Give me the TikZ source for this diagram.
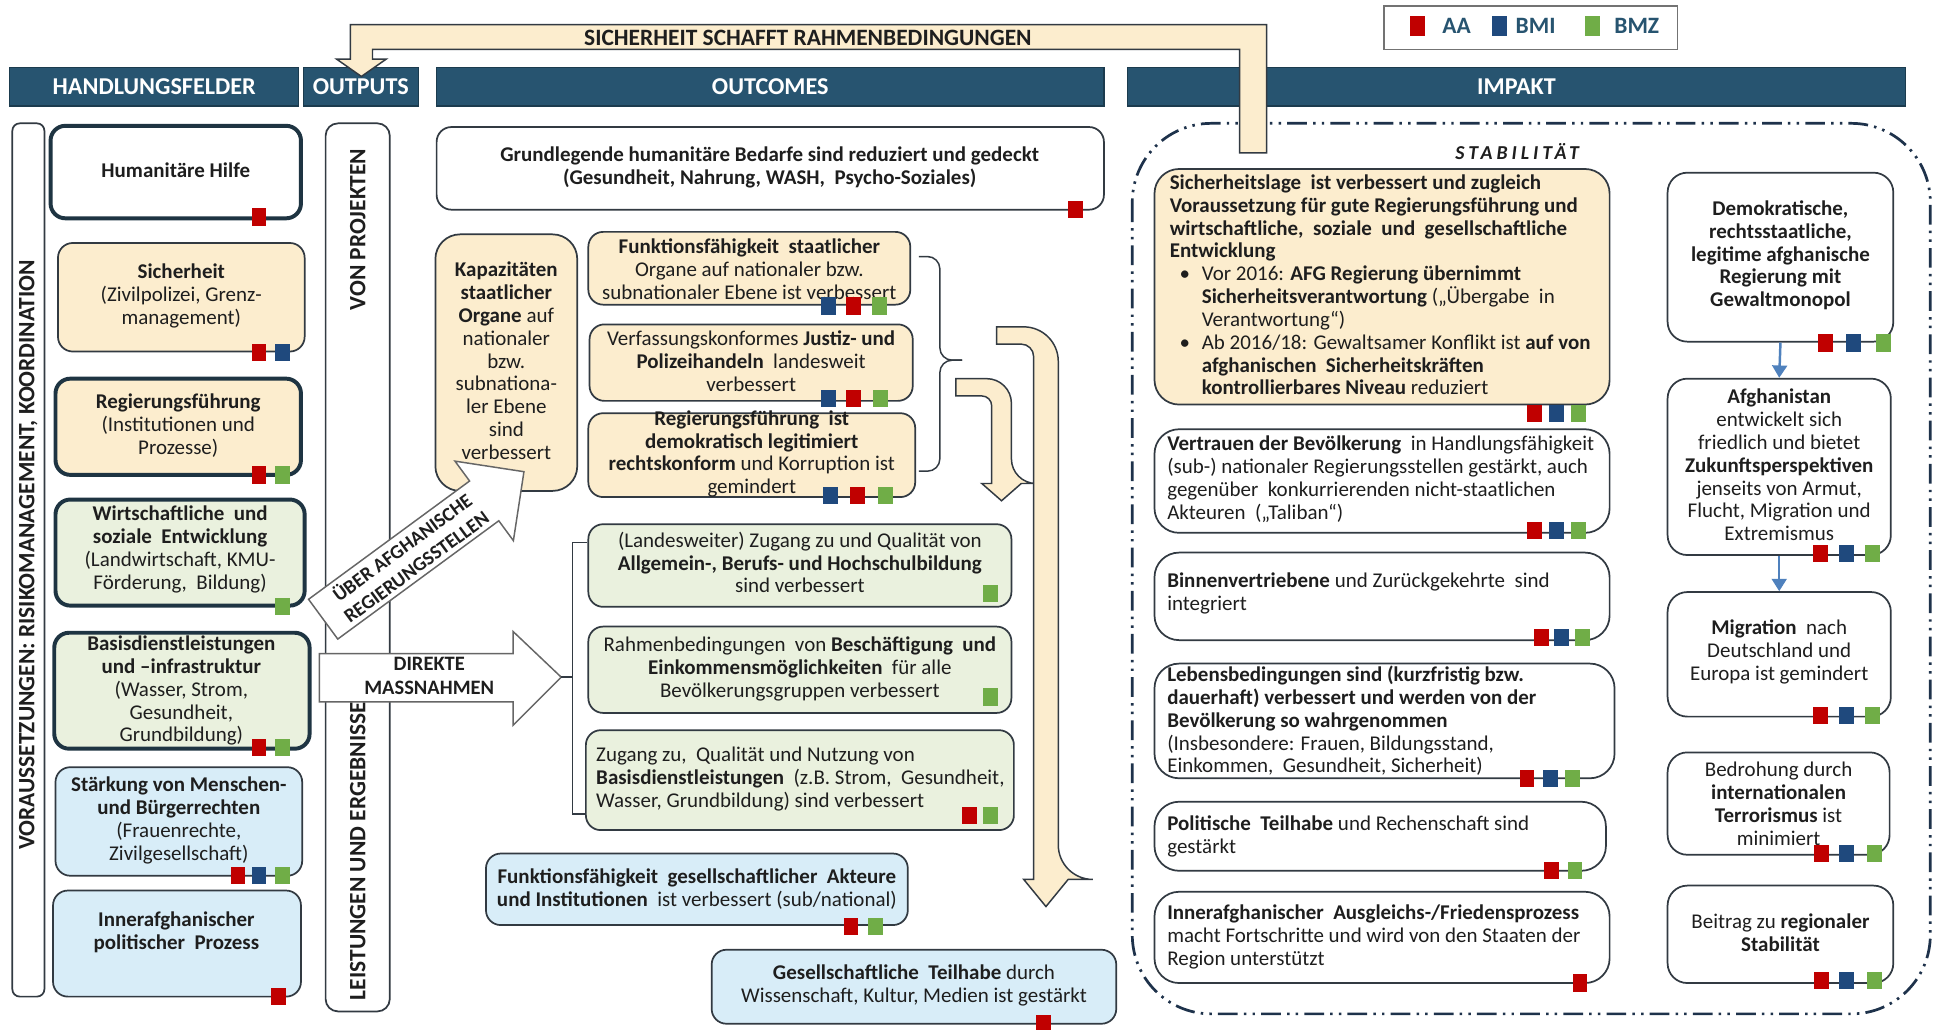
\documentclass[tikz,border=0pt]{standalone}
\usepackage{fontspec}
\setmainfont{Carlito}
\usetikzlibrary{fit,arrows.meta}
\definecolor{hdrC}{RGB}{39,84,112}
\definecolor{creamC}{RGB}{252,237,206}
\definecolor{greenC}{RGB}{234,241,222}
\definecolor{blueC}{RGB}{216,237,248}
\definecolor{edgeC}{RGB}{50,58,66}
\definecolor{thickC}{RGB}{30,52,66}
\definecolor{redSq}{RGB}{192,0,0}
\definecolor{blueSq}{RGB}{31,73,125}
\definecolor{greenSq}{RGB}{112,173,71}
\definecolor{arrC}{RGB}{79,129,189}
\definecolor{dashC}{RGB}{30,50,75}
\definecolor{txtC}{RGB}{30,30,30}
\newcommand\BFont{\fontsize{8.5}{9.25}\selectfont}
\newcommand\sq[3]{\fill[#1] ({#2-6},{#3-7}) rectangle ({#2+6},{#3+7});}
\tikzset{
  bx/.style={draw=edgeC, line width=0.7pt, rounded corners=6pt, inner sep=0pt},
  bxk/.style={draw=thickC, line width=1.6pt, rounded corners=6pt, inner sep=0pt},
  bxr/.style={draw=edgeC, line width=0.7pt, rounded corners=8pt, inner sep=0pt, fill=white},
  txt/.style={inner sep=0pt, align=center, font=\BFont, text=txtC},
  txl/.style={inner sep=0pt, align=left, font=\BFont, text=txtC, anchor=west},
  hdrbar/.style={fill=hdrC, draw=hdrC!70!black, line width=0.5pt, inner sep=0pt},
  hdrtxt/.style={inner sep=0pt, text=white, font=\bfseries\fontsize{9.8}{11}\selectfont},
  vtxt/.style={rotate=90, inner sep=0pt, text=txtC, font=\bfseries\fontsize{9.5}{11}\selectfont},
  blockarrow/.style={draw=black!60, line width=0.6pt, fill=white},
  bendarrow/.style={draw=edgeC, line width=0.6pt, fill=creamC},
  flow/.style={arrC, line width=1pt, -{Triangle[width=6pt,length=5pt]}},
  legtxt/.style={inner sep=0pt, text=hdrC, font=\bfseries\fontsize{9.5}{11}\selectfont}
}
\begin{document}
\begin{tikzpicture}[x=0.5pt,y=-0.5pt]
\useasboundingbox (0,0) rectangle (1568,835);
\fill[white] (0,0) rectangle (1568,835);

% ---------- impakt dashed frame
\draw[dashC, line width=1.1pt, dash pattern=on 8pt off 2.5pt on 1pt off 2.5pt on 1pt off 2.5pt, rounded corners=32pt] (918,100) rectangle (1565,822);

% ---------- header bars
\node[hdrbar, fit={(8,55)(242,86)}] (hHF) {};
\node[hdrtxt] (hHFt) at (hHF.center) {HANDLUNGSFELDER};
\node[hdrbar, fit={(246,55)(339,86)}] (hOUT) {};
\node[hdrtxt] (hOUTt) at (hOUT.center) {OUTPUTS};
\node[hdrbar, fit={(354,55)(895,86)}] (hOC) {};
\node[hdrtxt] (hOCt) at (hOC.center) {OUTCOMES};
\node[hdrbar, fit={(914,55)(1545,86)}] (hIMP) {};
\node[hdrtxt] (hIMPt) at (hIMP.center) {IMPAKT};

% ---------- Sicherheit band
\draw[bendarrow] (1005,124) -- (1005,40) -- (302,40) -- (302,48) -- (313,48) -- (293,62) -- (273,48) -- (284,48) -- (284,20) -- (1027,20) -- (1027,124) -- cycle;
\node[inner sep=0pt, text=txtC, font=\bfseries\fontsize{9.5}{11}\selectfont] (sichband) at (655,31) {SICHERHEIT SCHAFFT RAHMENBEDINGUNGEN};

% ---------- legend
\node[draw=black!55, line width=0.6pt, inner sep=0pt, fit={(1122,5)(1360,40)}] (legend) {};
\fill[redSq] (1143,13) rectangle (1155,29);
\fill[blueSq] (1210,13) rectangle (1222,29);
\fill[greenSq] (1285,13) rectangle (1297,29);
\node[legtxt] (legAA) at (1181,21) {AA};
\node[legtxt] (legBMI) at (1245,21) {BMI};
\node[legtxt] (legBMZ) at (1327,21) {BMZ};

% ---------- vertical frames
\node[draw=edgeC, line width=0.7pt, rounded corners=3pt, inner sep=0pt, fit={(10,100)(36,808)}] (vor) {};
\node[vtxt] (vortxt) at (23,450) {VORAUSSETZUNGEN: RISIKOMANAGEMENT, KOORDINATION};
\node[draw=edgeC, line width=0.7pt, rounded corners=5pt, inner sep=0pt, fit={(264,100)(316,820)}] (outcol) {};
\node[vtxt] (vonproj) at (290,186) {VON PROJEKTEN};
\node[vtxt] (leist) at (290,690) {LEISTUNGEN UND ERGEBNISSE};

% ---------- Handlungsfelder
\node[bxk, fill=white, fit={(41,102)(244,177)}] (L1) {};
\node[txt] (L1t) at (142.5,138) {\textbf{Humanitäre Hilfe}};
\node[bx, fill=creamC, fit={(47,197)(247,285)}] (L2) {};
\node[txt] (L2t) at (147,240) {\textbf{Sicherheit}\\(Zivilpolizei, Grenz-\\management)};
\node[bxk, fill=creamC, fit={(45,307)(244,385)}] (L3) {};
\node[txt] (L3t) at (144.5,345) {\textbf{Regierungsführung}\\(Institutionen und\\Prozesse)};
\node[bxk, fill=greenC, fit={(45,405)(247,491)}] (L4) {};
\node[txt] (L4t) at (146,445.5) {\textbf{Wirtschaftliche\ \ und}\\\textbf{soziale\ \ Entwicklung}\\(Landwirtschaft, KMU-\\Förderung,\ \ Bildung)};
\node[bxk, fill=greenC, fit={(44,513)(251,607)}] (L5) {};
\node[txt] (L5t) at (147,560) {\textbf{Basisdienstleistungen}\\\textbf{und –infrastruktur}\\(Wasser, Strom,\\Gesundheit,\\Grundbildung)};
\node[bx, fill=blueC, fit={(45,622)(245,710)}] (L6) {};
\node[txt] (L6t) at (145,665) {\textbf{Stärkung von Menschen-}\\\textbf{und Bürgerrechten}\\(Frauenrechte,\\Zivilgesellschaft)};
\node[bx, fill=blueC, fit={(43,722)(244,808)}] (L7) {};
\node[txt] (L7t) at (143,756) {\textbf{Innerafghanischer}\\\textbf{politischer\ \ Prozess}};

\sq{redSq}{210}{176}
\sq{redSq}{210}{286}\sq{blueSq}{229}{286}
\sq{redSq}{210}{385}\sq{greenSq}{229}{385}
\sq{greenSq}{229}{492}
\sq{redSq}{210}{606}\sq{greenSq}{229}{606}
\sq{redSq}{193}{710}\sq{blueSq}{210}{710}\sq{greenSq}{229}{710}
\sq{redSq}{226}{808}

% ---------- Outcomes
\node[bx, fill=white, fit={(354,103)(895,170)}] (O1) {};
\node[txt] (O1t) at (624,136) {\textbf{Grundlegende humanitäre Bedarfe sind reduziert und gedeckt}\\\textbf{(Gesundheit, Nahrung, WASH,\ \ Psycho-Soziales)}};
\node[bx, fill=creamC, rounded corners=10pt, fit={(353,190)(468,398)}] (O2) {};
\node[txt] (O2t) at (410.5,292.5) {\textbf{Kapazitäten}\\\textbf{staatlicher}\\\textbf{Organe} auf\\nationaler\\bzw.\\subnationa-\\ler Ebene\\sind\\verbessert};
\node[bx, fill=creamC, fit={(477,188)(738,247)}] (O3) {};
\node[txt] (O3t) at (607.5,218.5) {\textbf{Funktionsfähigkeit\ \ staatlicher}\\Organe auf nationaler bzw.\\subnationaler Ebene ist verbessert};
\node[bx, fill=creamC, fit={(478,263)(740,325)}] (O4) {};
\node[txt] (O4t) at (609,293) {Verfassungskonformes \textbf{Justiz- und}\\\textbf{Polizeihandeln}\ \ landesweit\\verbessert};
\node[bx, fill=creamC, fit={(477,335)(742,403)}] (O5) {};
\node[txt] (O5t) at (609.5,368) {\textbf{Regierungsführung\ \ ist}\\\textbf{demokratisch legitimiert}\\\textbf{rechtskonform} und Korruption ist\\gemindert};
\node[bx, fill=greenC, fit={(477,425)(820,492)}] (O6) {};
\node[txt] (O6t) at (648.5,456) {(Landesweiter) Zugang zu und Qualität von\\\textbf{Allgemein-, Berufs- und Hochschulbildung}\\sind verbessert};
\node[bx, fill=greenC, fit={(477,508)(820,578)}] (O7) {};
\node[txt] (O7t) at (648.5,542.5) {Rahmenbedingungen\ \ von \textbf{Beschäftigung\ \ und}\\\textbf{Einkommensmöglichkeiten}\ \ für alle\\Bevölkerungsgruppen verbessert};
\node[bx, fill=greenC, fit={(475,592)(822,673)}] (O8) {};
\node[txl] (O8t) at (483,631.5) {Zugang zu,\ \ Qualität und Nutzung von\\\textbf{Basisdienstleistungen}\ \ (z.B. Strom,\ \ Gesundheit,\\Wasser, Grundbildung) sind verbessert};
\node[bx, fill=blueC, fit={(394,692)(736,750)}] (O9) {};
\node[txt] (O9t) at (565,721) {\textbf{Funktionsfähigkeit\ \ gesellschaftlicher\ \ Akteure}\\\textbf{und Institutionen}\ \ ist verbessert (sub/national)};
\node[bx, fill=blueC, fit={(577,770)(905,830)}] (O10) {};
\node[txt] (O10t) at (741,799) {\textbf{Gesellschaftliche\ \ Teilhabe} durch\\Wissenschaft, Kultur, Medien ist gestärkt};

\sq{redSq}{872}{170}
\sq{blueSq}{672}{248}\sq{redSq}{692}{248}\sq{greenSq}{713}{248}
\sq{blueSq}{672}{323}\sq{redSq}{692}{323}\sq{greenSq}{714}{323}
\sq{blueSq}{673}{402}\sq{redSq}{695}{402}\sq{greenSq}{718}{402}
\sq{greenSq}{803}{481}
\sq{greenSq}{803}{565}
\sq{redSq}{786}{661}\sq{greenSq}{803}{661}
\sq{redSq}{690}{751}\sq{greenSq}{710}{751}
\sq{redSq}{846}{830}

% brace right of the cream outcomes
\draw[edgeC, line width=0.6pt, rounded corners=5pt] (745,208) -- (762,208) -- (762,292) -- (780,292);
\draw[edgeC, line width=0.6pt, rounded corners=5pt] (745,382) -- (762,382) -- (762,292) -- (780,292);

% bracket left of the green outcomes
\draw[edgeC, line width=0.6pt] (O6.west |- 0,440) -- (464,440) -- (464,660) -- (O8.west |- 0,660);

% bent cream arrows
\draw[bendarrow] (775,307) [rounded corners=10pt] -- (820,307) -- (820,392) [sharp corners] -- (828,392) -- (812,406) -- (796,392) -- (804,392) [rounded corners=4pt] -- (804,321) [sharp corners] -- (775,321) -- cycle;
\draw[bendarrow] (808,265) [rounded corners=14pt] -- (858,265) -- (858,713) [sharp corners] -- (866,713) -- (848,735) -- (830,713) -- (838,713) [rounded corners=5pt] -- (838,279) [sharp corners] -- (808,279) -- cycle;

% block arrows
\begin{scope}[shift={(262,502)}, rotate=36.3]
\draw[blockarrow] (0,-20) -- (162,-20) -- (162,-40) -- (202,0) -- (162,40) -- (162,20) -- (0,20) -- cycle;
\node[transform shape, inner sep=0pt, align=center, text=txtC, font=\bfseries\fontsize{8}{9.6}\selectfont] (ueber) at (86,0) {ÜBER AFGHANISCHE\\REGIERUNGSSTELLEN};
\end{scope}
\draw[blockarrow] (259,530) -- (416,530) -- (416,512) -- (455,549) -- (416,588) -- (416,569) -- (259,569) -- cycle;
\node[inner sep=0pt, align=center, text=txtC, font=\bfseries\fontsize{8.3}{10}\selectfont] (direkt) at (348,548) {DIREKTE\\MASSNAHMEN};
\coordinate (dtip) at (455,549);
\draw[edgeC, line width=0.6pt] (dtip) -- (464,549);

% ---------- Impakt
\node[font=\bfseries\itshape\fontsize{8}{9}\selectfont\addfontfeature{LetterSpace=20}, inner sep=0pt, text=txtC] (stab) at (1230,123) {STABILITÄT};

\node[bx, rounded corners=10pt, fill=creamC, fit={(936,137)(1305,328)}] (I1) {};
\node[txl] (I1t) at (948,231) {\textbf{Sicherheitslage\ \ ist verbessert und zugleich}\\
\textbf{Voraussetzung für gute Regierungsführung und}\\
\textbf{wirtschaftliche,\ \ soziale\ \ und\ \ gesellschaftliche}\\
\textbf{Entwicklung}\\
\hspace*{4pt}\makebox[9pt][l]{\textbullet}Vor 2016: \textbf{AFG Regierung übernimmt}\\
\hspace*{13pt}\textbf{Sicherheitsverantwortung} („Übergabe\ \ in\\
\hspace*{13pt}Verantwortung“)\\
\hspace*{4pt}\makebox[9pt][l]{\textbullet}Ab 2016/18: Gewaltsamer Konflikt ist \textbf{auf von}\\
\hspace*{13pt}\textbf{afghanischen\ \ Sicherheitskräften}\\
\hspace*{13pt}\textbf{kontrollierbares Niveau} reduziert};
\node[bx, rounded corners=10pt, fill=white, fit={(936,348)(1305,432)}] (I2) {};
\node[txl] (I2t) at (946,388.5) {\textbf{Vertrauen der Bevölkerung}\ \ in Handlungsfähigkeit\\(sub-) nationaler Regierungsstellen gestärkt, auch\\gegenüber\ \ konkurrierenden nicht-staatlichen\\Akteuren\ \ („Taliban“)};
\node[bx, rounded corners=10pt, fill=white, fit={(936,448)(1305,519)}] (I3) {};
\node[txl] (I3t) at (946,481) {\textbf{Binnenvertriebene} und Zurückgekehrte\ \ sind\\integriert};
\node[bx, rounded corners=10pt, fill=white, fit={(936,538)(1309,631)}] (I4) {};
\node[txl] (I4t) at (946,584.5) {\textbf{Lebensbedingungen sind (kurzfristig bzw.}\\\textbf{dauerhaft) verbessert und werden von der}\\\textbf{Bevölkerung so wahrgenommen}\\(Insbesondere: Frauen, Bildungsstand,\\Einkommen,\ \ Gesundheit, Sicherheit)};
\node[bx, rounded corners=10pt, fill=white, fit={(936,650)(1302,706)}] (I5) {};
\node[txl] (I5t) at (946,678) {\textbf{Politische\ \ Teilhabe} und Rechenschaft sind\\gestärkt};
\node[bx, rounded corners=10pt, fill=white, fit={(936,723)(1305,797)}] (I6) {};
\node[txl] (I6t) at (946,759.5) {\textbf{Innerafghanischer\ \ Ausgleichs-/Friedensprozess}\\macht Fortschritte und wird von den Staaten der\\Region unterstützt};

\sq{redSq}{1244}{335}\sq{blueSq}{1262}{335}\sq{greenSq}{1280}{335}
\sq{redSq}{1244}{430}\sq{blueSq}{1262}{430}\sq{greenSq}{1280}{430}
\sq{redSq}{1250}{517}\sq{blueSq}{1266}{517}\sq{greenSq}{1283}{517}
\sq{redSq}{1238}{631}\sq{blueSq}{1257}{631}\sq{greenSq}{1275}{631}
\sq{redSq}{1258}{706}\sq{greenSq}{1277}{706}
\sq{redSq}{1281}{797}

\node[bxr, fit={(1352,140)(1535,277)}] (R1) {};
\node[txt] (R1t) at (1443.5,207) {\textbf{Demokratische,}\\\textbf{rechtsstaatliche,}\\\textbf{legitime afghanische}\\\textbf{Regierung mit}\\\textbf{Gewaltmonopol}};
\node[bxr, fit={(1352,307)(1533,450)}] (R2) {};
\node[txt] (R2t) at (1442.5,377) {\textbf{Afghanistan}\\entwickelt sich\\friedlich und bietet\\\textbf{Zukunftsperspektiven}\\jenseits von Armut,\\Flucht, Migration und\\Extremismus};
\node[bxr, fit={(1352,480)(1533,581)}] (R3) {};
\node[txt] (R3t) at (1442.5,528.5) {\textbf{Migration}\ \ nach\\Deutschland und\\Europa ist gemindert};
\node[bxr, fit={(1352,610)(1532,693)}] (R4) {};
\node[txt] (R4t) at (1442,651.5) {Bedrohung durch\\\textbf{internationalen}\\\textbf{Terrorismus} ist\\minimiert};
\node[bxr, fit={(1352,718)(1535,797)}] (R5) {};
\node[txt] (R5t) at (1443.5,756) {Beitrag zu \textbf{regionaler}\\\textbf{Stabilität}};

\draw[flow] (R1.south) -- (R2.north);
\draw[flow] (R2.south) -- (R3.north);

\sq{redSq}{1480}{278}\sq{blueSq}{1503}{278}\sq{greenSq}{1527}{278}
\sq{redSq}{1476}{449}\sq{blueSq}{1497}{449}\sq{greenSq}{1518}{449}
\sq{redSq}{1476}{580}\sq{blueSq}{1497}{580}\sq{greenSq}{1518}{580}
\sq{redSq}{1477}{692}\sq{blueSq}{1497}{692}\sq{greenSq}{1520}{692}
\sq{redSq}{1477}{795}\sq{blueSq}{1497}{795}\sq{greenSq}{1520}{795}
\end{tikzpicture}
\end{document}
